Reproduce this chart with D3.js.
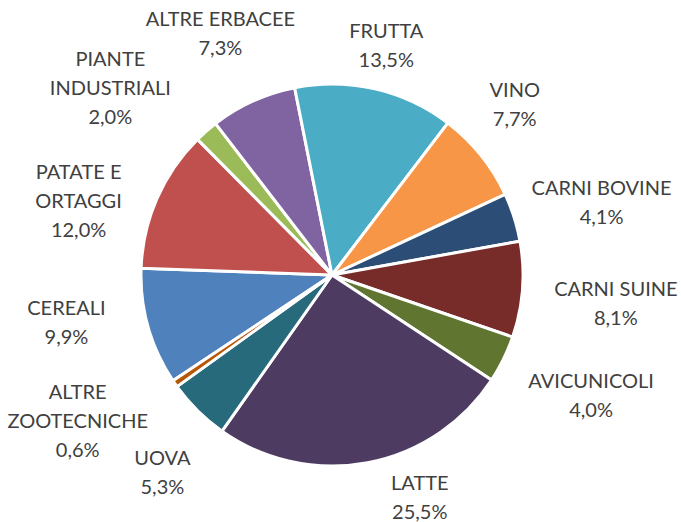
<!DOCTYPE html>
<html>
<head>
<meta charset="utf-8">
<script src="https://cdn.jsdelivr.net/npm/d3@7"></script>
<style>
  html, body { margin: 0; padding: 0; background: #fff; }
  svg text { font-family: Lato, "Open Sans", sans-serif; fill: #404040; }
</style>
</head>
<body>
<svg id="chart" width="681" height="522"></svg>
<script>
// production shares (%), in series order
var categories = ['CEREALI', 'PATATE E ORTAGGI', 'PIANTE INDUSTRIALI', 'ALTRE ERBACEE',
    'FRUTTA', 'VINO', 'CARNI BOVINE', 'CARNI SUINE', 'AVICUNICOLI', 'LATTE', 'UOVA',
    'ALTRE ZOOTECNICHE'];
var values = [9.9, 12.0, 2.0, 7.3, 13.5, 7.7, 4.1, 8.1, 4.0, 25.5, 5.3, 0.6];
// how each label breaks into lines
var labelLines = [['CEREALI'], ['PATATE E', 'ORTAGGI'], ['PIANTE', 'INDUSTRIALI'],
    ['ALTRE ERBACEE'], ['FRUTTA'], ['VINO'], ['CARNI BOVINE'], ['CARNI SUINE'],
    ['AVICUNICOLI'], ['LATTE'], ['UOVA'], ['ALTRE', 'ZOOTECNICHE']];

var colors = ['#4f81bd', '#c0504d', '#9bbb59', '#8064a2', '#4bacc6', '#f79646',
    '#2c4d75', '#772c2a', '#5f7530', '#4d3b62', '#276a7c', '#b65708'];

// hand moved labels, like in the original sheet (dx, dy from default spot)
var labelNudge = [[-19, -17], [-15, 27], [-39, 3], [9, -24], [-3, 3], [-6, -21],
    [-4, 0], [6, 10], [8, 15], [42, -12], [3, 28], [-18, 2]];

var W = 681, H = 522;
var cx = 332, cy = 275, R = 191;
var firstAngle = 236.4; // degrees, like excel "angle of first slice"
var lineH = 29, capH = 14, gap = 26;

var fmt = function (v) { return d3.format('.1f')(v).replace('.', ',') + '%'; };

var svg = d3.select('#chart');
var g = svg.append('g').attr('transform', 'translate(' + cx + ',' + cy + ')');

var pie = d3.pie()
    .sort(null)
    .value(function (d) { return d; })
    .startAngle(firstAngle * Math.PI / 180)
    .endAngle((firstAngle + 360) * Math.PI / 180);

var arc = d3.arc().innerRadius(0).outerRadius(R);
var arcs = pie(values);

g.selectAll('path.slice')
    .data(arcs)
    .enter().append('path')
    .attr('class', 'slice')
    .attr('d', arc)
    .attr('fill', function (d, i) { return colors[i]; })
    .attr('stroke', '#fff')
    .attr('stroke-width', 3)
    .attr('stroke-linejoin', 'round');

// labels
arcs.forEach(function (a, i) {
    var lines = labelLines[i].concat([fmt(values[i])]);
    var t = svg.append('text').attr('text-anchor', 'middle').style('font-size', '20px');
    lines.forEach(function (s, k) {
        t.append('tspan').attr('x', 0).attr('y', k * lineH).text(s);
    });
    var w = t.node().getBBox().width;
    var h = capH + (lines.length - 1) * lineH;
    var mid = (a.startAngle + a.endAngle) / 2;
    var sx = Math.sin(mid), sy = -Math.cos(mid);
    var bx = cx + sx * (R + gap) + sx * w / 2 + labelNudge[i][0];
    var by = cy + sy * (R + gap) + sy * h / 2 + labelNudge[i][1];
    t.selectAll('tspan').attr('x', bx);
    t.attr('transform', 'translate(0,' + (by - h / 2 + capH) + ')');
});
</script>
</body>
</html>
